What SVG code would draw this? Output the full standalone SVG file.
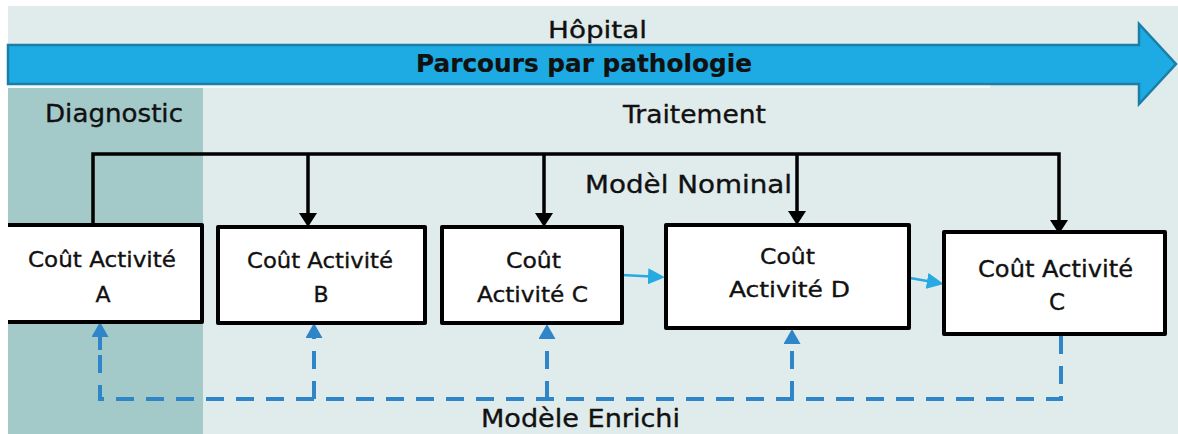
<svg xmlns="http://www.w3.org/2000/svg" width="1178" height="434" viewBox="0 0 1178 434">
  <defs>
    <style>
      text { font-family: "DejaVu Sans", "Liberation Sans", sans-serif; fill: #111; stroke: #111; stroke-width: 0.35; text-anchor: middle; }
      .box { fill: #ffffff; stroke: #000; stroke-width: 4; stroke-linejoin: round; }
      .lbl { font-size: 22px; }
      .big { font-size: 25px; }
      .black { fill: none; stroke: #000; stroke-width: 3.5; }
      .solid { fill: none; stroke: #27a9e1; stroke-width: 2.5; }
      .dash { fill: none; stroke: #2e86c8; stroke-width: 4; stroke-dasharray: 18 12; }
    </style>
    <marker id="mBlack" markerUnits="userSpaceOnUse" viewBox="0 0 14 18" markerWidth="14" markerHeight="18" refX="2" refY="9" orient="auto">
      <path d="M0,0 L14,9 L0,18 z" fill="#000"/>
    </marker>
    <marker id="mSolid" markerUnits="userSpaceOnUse" viewBox="0 0 17 16" markerWidth="17" markerHeight="16" refX="3" refY="8" orient="auto">
      <path d="M0,0 L17,8 L0,16 z" fill="#27a9e1"/>
    </marker>
    <marker id="mDash" markerUnits="userSpaceOnUse" viewBox="0 0 15 17" markerWidth="15" markerHeight="17" refX="2" refY="8.5" orient="auto">
      <path d="M0,0 L15,8.5 L0,17 z" fill="#2e86c8"/>
    </marker>
  </defs>

  <g id="background">
    <rect x="0" y="0" width="1178" height="434" fill="#ffffff"/>
    <rect x="8" y="6" width="1170" height="428" fill="#e0ebeb"/>
    <rect x="8" y="85" width="982" height="3" fill="#f4f8f8"/>
    <rect x="8" y="88" width="195" height="346" fill="#a3c9c8"/>
  </g>

  <g id="hopital-arrow">
    <polygon points="8,45 1139,45 1139,24 1176,64 1139,104 1139,84 8,84" fill="#1eabe3" stroke="#1a7ea8" stroke-width="2.5" stroke-linejoin="miter"/>
    <text x="597.5" y="38" style="font-size:23px" textLength="99" lengthAdjust="spacingAndGlyphs">Hôpital</text>
    <text x="584" y="72" style="font-size:24px;font-weight:bold;stroke-width:0.2" textLength="336" lengthAdjust="spacingAndGlyphs">Parcours par pathologie</text>
  </g>

  <g id="phases">
    <text x="114" y="122" class="big" textLength="138" lengthAdjust="spacingAndGlyphs">Diagnostic</text>
    <text x="694.5" y="123" class="big" textLength="143" lengthAdjust="spacingAndGlyphs">Traitement</text>
  </g>

  <g id="connectors">
    <path class="black" d="M93,225 V154 H1059 V222" marker-end="url(#mBlack)"/>
    <path class="black" d="M308,154 V215" marker-end="url(#mBlack)"/>
    <path class="black" d="M544,154 V215" marker-end="url(#mBlack)"/>
    <path class="black" d="M797,154 V213" marker-end="url(#mBlack)"/>
    <path class="solid" d="M622,275 L651,276.5" marker-end="url(#mSolid)"/>
    <path class="solid" d="M910,278 L930,281.5" marker-end="url(#mSolid)"/>
    <path class="dash" d="M1061,336 V399 H100 V335"/>
    <path class="dash" d="M100,350 V335" marker-end="url(#mDash)"/>
    <path class="dash" d="M314,399 V336" marker-end="url(#mDash)"/>
    <path class="dash" d="M547,399 V337" marker-end="url(#mDash)"/>
    <path class="dash" d="M792,399 V342" marker-end="url(#mDash)"/>
    <text x="688.5" y="193" class="big" textLength="207" lengthAdjust="spacingAndGlyphs">Modèl Nominal</text>
    <text x="580.5" y="427" class="big" textLength="199" lengthAdjust="spacingAndGlyphs">Modèle Enrichi</text>
  </g>

  <g id="node-a">
    <rect x="8" y="225" width="194" height="97" fill="#ffffff"/>
    <path d="M8,225 H202 V322 H8" fill="none" stroke="#000" stroke-width="4" stroke-linejoin="round"/>
    <text x="102" y="267" class="lbl" textLength="148" lengthAdjust="spacingAndGlyphs">Coût Activité</text>
    <text x="103" y="302" class="lbl">A</text>
  </g>

  <g id="node-b">
    <rect class="box" x="218" y="227" width="207" height="96"/>
    <text x="320" y="268" class="lbl" textLength="146" lengthAdjust="spacingAndGlyphs">Coût Activité</text>
    <text x="321" y="302" class="lbl">B</text>
  </g>

  <g id="node-c">
    <rect class="box" x="442" y="227" width="180" height="96"/>
    <text x="533.5" y="268" class="lbl" textLength="55" lengthAdjust="spacingAndGlyphs">Coût</text>
    <text x="532.5" y="302" class="lbl" textLength="111" lengthAdjust="spacingAndGlyphs">Activité  C</text>
  </g>

  <g id="node-d">
    <rect class="box" x="666" y="225" width="243" height="103"/>
    <text x="787.5" y="264" class="lbl" textLength="55" lengthAdjust="spacingAndGlyphs">Coût</text>
    <text x="789.5" y="297" class="lbl" textLength="121" lengthAdjust="spacingAndGlyphs">Activité  D</text>
  </g>

  <g id="node-e">
    <rect class="box" x="944" y="232" width="221" height="102"/>
    <text x="1055.5" y="277" class="lbl" style="font-size:23px" textLength="155" lengthAdjust="spacingAndGlyphs">Coût Activité</text>
    <text x="1057" y="310" class="lbl" style="font-size:23px">C</text>
  </g>
</svg>
